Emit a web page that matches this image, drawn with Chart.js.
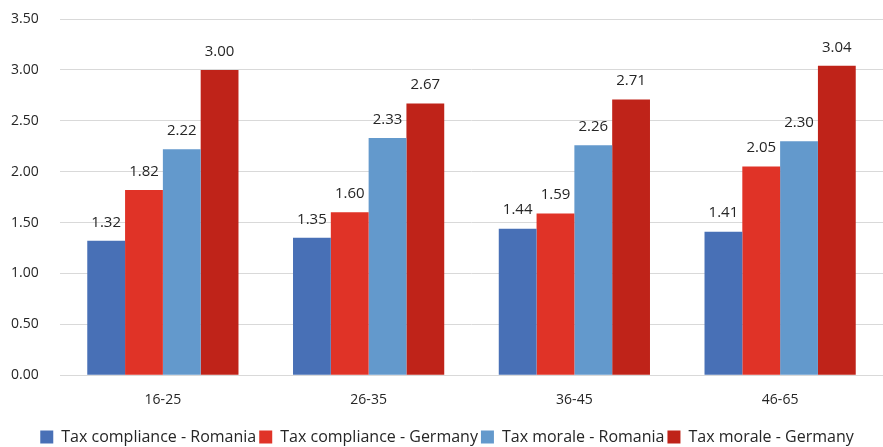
<!DOCTYPE html>
<html>
<head>
<meta charset="utf-8">
<script src="https://cdn.jsdelivr.net/npm/chart.js@4/dist/chart.umd.min.js"></script>
<style>
  html, body { margin: 0; padding: 0; background: #fff; }
  #wrap { width: 883px; height: 447px; }
</style>
</head>
<body>
<div id="wrap"><canvas id="c"></canvas></div>
<script>
var categories = ["16-25", "26-35", "36-45", "46-65"];
var complianceRomania = [1.32, 1.35, 1.44, 1.41];
var complianceGermany = [1.82, 1.60, 1.59, 2.05];
var moraleRomania = [2.22, 2.33, 2.26, 2.30];
var moraleGermany = [3.00, 2.67, 2.71, 3.04];

// value labels above each bar
var barLabels = {
  id: "barLabels",
  afterDatasetsDraw: function(chart) {
    var ctx = chart.ctx;
    ctx.save();
    ctx.font = "15px 'Open Sans', sans-serif";
    ctx.fillStyle = "#262626";
    ctx.textAlign = "center";
    ctx.textBaseline = "bottom";
    chart.data.datasets.forEach(function(ds, i) {
      chart.getDatasetMeta(i).data.forEach(function(bar, j) {
        ctx.fillText(ds.data[j].toFixed(2), bar.x, bar.y - 11);
      });
    });
    ctx.restore();
  }
};

new Chart(document.getElementById("c"), {
  type: "bar",
  data: {
    labels: categories,
    datasets: [
      { label: "Tax compliance - Romania", data: complianceRomania, backgroundColor: "#4870B6" },
      { label: "Tax compliance - Germany", data: complianceGermany, backgroundColor: "#E03327" },
      { label: "Tax morale - Romania", data: moraleRomania, backgroundColor: "#6399CC" },
      { label: "Tax morale - Germany", data: moraleGermany, backgroundColor: "#BF2319" }
    ]
  },
  options: {
    responsive: true,
    maintainAspectRatio: false,
    animation: false,
    datasets: { bar: { categoryPercentage: 0.735, barPercentage: 1 } },
    layout: { padding: { top: 19, right: 0, left: 11, bottom: -8 } },
    plugins: {
      tooltip: { enabled: false },
      legend: {
        position: "bottom",
        labels: {
          boxWidth: 13, boxHeight: 13, padding: 3,
          color: "#262626",
          font: { family: "'Open Sans', sans-serif", size: 16 }
        }
      }
    },
    scales: {
      x: {
        grid: { display: false },
        border: { color: "#D9D9D9" },
        ticks: { color: "#262626", padding: 8, font: { family: "'Open Sans', sans-serif", size: 14 } },
        afterFit: function(s) { s.height += 10; }
      },
      y: {
        min: 0, max: 3.5,
        grid: { color: "#D9D9D9", drawTicks: false },
        border: { display: false },
        ticks: {
          stepSize: 0.5, padding: 0, crossAlign: "far", color: "#262626",
          font: { family: "'Open Sans', sans-serif", size: 14 },
          callback: function(v) { return v.toFixed(2); }
        },
        afterFit: function(s) { s.width = 49; }
      }
    }
  },
  plugins: [barLabels]
});
</script>
</body>
</html>
